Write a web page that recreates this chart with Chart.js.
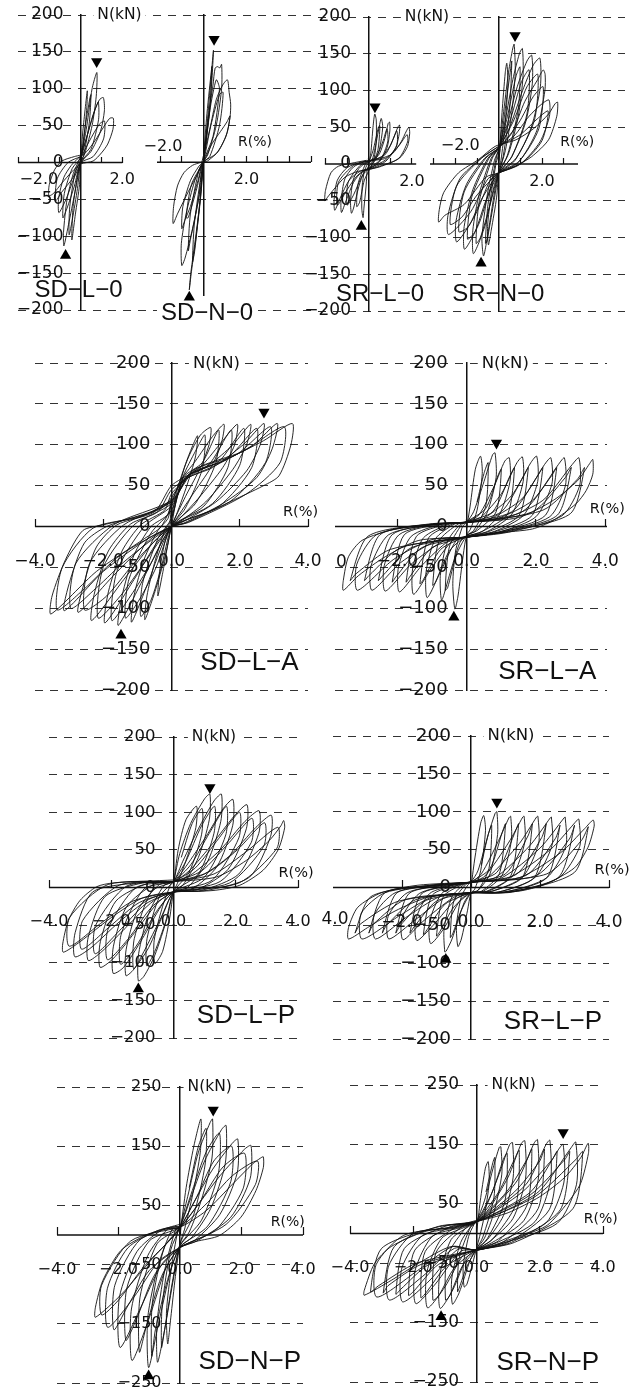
<!DOCTYPE html>
<html>
<head>
<meta charset="utf-8">
<title>N-R hysteresis</title>
<script src="https://cdn.jsdelivr.net/npm/chart.js@4"></script>
<style>
  html, body { margin: 0; padding: 0; background: #fff; }
  body { position: relative; width: 636px; height: 1391px; overflow: hidden; }
  canvas { position: absolute; }
</style>
</head>
<body>
<script>
// loops, [R(%), N(kN)]
const sdL0Loop = [
  [0,0],[.1,40],[.32,97],[.3,75],[.15,30],[0,0],
  [-.05,-30],[-.25,-70],[-.42,-105],[-.36,-60],[-.15,-18],[0,3],
  [.3,50],[.55,100],[.78,122],[.75,90],[.55,50],[.2,12],[0,0],
  [-.2,-30],[-.55,-80],[-.8,-113],[-.82,-95],[-.65,-50],[-.35,-15],[-.05,5],
  [.3,35],[.6,65],[.9,85],[1.09,88],[1.14,70],[.95,42],[.5,15],[.1,3],
  [-.3,-20],[-.7,-50],[-1.04,-68],[-1.05,-48],[-.8,-20],[-.45,-4],[-.1,6],
  [.3,15],[.7,30],[1.1,48],[1.4,60],[1.57,60],[1.55,45],[1.3,25],[1,13],[.6,2],[0,-2],
  [-.4,-12],[-.9,-28],[-1.3,-42],[-1.52,-45],[-1.5,-30],[-1.25,-10],[-.9,2],[-.3,8],[0,10]
];
const sdL0Second = [
  [0,0],[.2,45],[.45,88],[.5,92],[.42,55],[.15,10],[0,0],
  [-.15,-35],[-.4,-78],[-.55,-98],[-.52,-60],[-.25,-12],[0,4],
  [.35,40],[.7,72],[.85,82],[.86,58],[.5,18],[0,0],
  [-.3,-32],[-.65,-62],[-.85,-75],[-.78,-42],[-.4,-8],[0,6],
  [.4,28],[.9,52],[1.15,56],[1.1,32],[.6,8],[0,0],
  [-.4,-22],[-.9,-40],[-1.2,-52],[-1.12,-22],[-.6,0],[0,8]
];
const sdN0Loop = [
  [0,0],[.2,60],[.47,152],[.36,95],[.12,25],[0,0],
  [-.1,-40],[-.35,-100],[-.58,-150],[-.65,-173],[-.55,-148],[-.35,-105],[-.15,-55],[0,0],
  [.25,65],[.45,105],[.55,128],[.68,130],[.76,128],[.85,133],[.85,100],[.6,50],[.2,10],[0,0],
  [-.1,-30],[-.5,-90],[-.85,-130],[-1,-140],[-1.02,-110],[-.8,-70],[-.4,-25],[-.1,-3],
  [.3,45],[.6,85],[.9,105],[1.12,112],[1.2,95],[1.27,79],[1.24,61],[1.05,35],[.6,12],[0,0],
  [-.25,-25],[-.6,-60],[-.85,-78],[-1,-90],[-.95,-60],[-.6,-25],[-.2,-5],[0,0],
  [.4,25],[.8,42],[1.1,55],[1.24,63],[1.1,40],[.7,15],[.2,2],[0,0],
  [-.2,-12],[-.7,-40],[-1.2,-70],[-1.4,-83],[-1.38,-60],[-1.2,-32],[-.9,-14],[-.5,-4],[-.1,0],[0,0]
];
const sdN0Second = [
  [0,0],[.15,60],[.35,118],[.4,130],[.3,70],[0,0],
  [-.15,-50],[-.4,-120],[-.5,-135],[-.42,-85],[-.12,-20],[0,0],
  [.3,70],[.6,112],[.75,100],[.45,35],[0,0],
  [-.25,-55],[-.6,-105],[-.7,-120],[-.6,-70],[-.2,-10],[0,0],
  [.35,50],[.75,92],[.92,95],[.75,50],[.3,8],[0,0],
  [-.3,-35],[-.7,-75],[-.8,-75],[-.55,-30],[0,0]
];
const srL0Loop = [
  [0,0],[.1,15],[.2,50],[.28,68],[.35,60],[.35,30],[.25,8],[.1,0],[-.05,-5],
  [-.12,-30],[-.22,-60],[-.26,-73],[-.32,-60],[-.3,-30],[-.2,-10],[-.05,0],
  [.15,5],[.3,22],[.47,48],[.58,62],[.65,50],[.5,20],[.3,5],[.05,-4],
  [-.2,-10],[-.45,-30],[-.7,-60],[-.8,-67],[-.84,-50],[-.72,-22],[-.45,-6],[-.1,2],
  [.2,5],[.5,14],[.75,35],[.9,55],[.97,57],[.98,45],[.85,22],[.5,3],[.1,-5],
  [-.3,-10],[-.7,-25],[-1.05,-50],[-1.26,-66],[-1.28,-50],[-1.1,-20],[-.7,-4],[-.2,3],
  [.4,7],[.8,14],[1.15,35],[1.35,50],[1.43,53],[1.42,42],[1.25,22],[.8,4],[.2,-5],
  [-.4,-10],[-.9,-22],[-1.3,-45],[-1.57,-63],[-1.6,-48],[-1.45,-22],[-1,-5],[-.3,3],
  [.5,7],[1.1,14],[1.5,30],[1.75,45],[1.86,50],[1.9,42],[1.8,24],[1.5,10],[1.2,4],[.6,-2],[.1,-7],
  [-.5,-10],[-1.1,-18],[-1.6,-34],[-1.9,-45],[-2.03,-50],[-2,-36],[-1.75,-12],[-1.4,-3],[-.8,1],[-.1,5]
];
const srL0Second = [
  [0,2],[.2,18],[.45,50],[.52,52],[.42,18],[.1,-4],
  [-.2,-22],[-.42,-52],[-.55,-58],[-.5,-28],[-.15,0],[0,3],
  [.35,10],[.65,30],[.85,48],[.88,30],[.55,6],[.05,-5],
  [-.3,-16],[-.7,-42],[-1,-56],[-.95,-25],[-.4,-2],[0,4],
  [.6,10],[1,25],[1.3,45],[1.3,25],[.8,6],[.1,-5],
  [-.5,-15],[-1,-35],[-1.45,-56],[-1.4,-25],[-.7,-2],[0,4],
  [.8,8],[1.4,25],[1.78,40],[1.8,30],[1.4,8],[.5,-4],[0,-7]
];
const srN0Loop = [
  [0,0],[.15,70],[.3,125],[.37,137],[.42,110],[.28,50],[.1,5],[0,-8],
  [-.1,-45],[-.35,-90],[-.48,-110],[-.52,-85],[-.35,-40],[-.12,2],[0,15],
  [.2,65],[.45,125],[.65,158],[.71,163],[.76,125],[.6,70],[.3,18],[0,-12],
  [-.15,-30],[-.45,-85],[-.7,-125],[-.78,-100],[-.55,-45],[-.2,5],[0,20],
  [.3,60],[.65,115],[.95,150],[1.09,157],[1.12,120],[.9,65],[.45,14],[0,-12],
  [-.2,-28],[-.65,-85],[-1.17,-122],[-1.2,-90],[-.9,-40],[-.35,8],[0,22],
  [.4,55],[.85,105],[1.3,140],[1.52,148],[1.55,110],[1.25,58],[.6,10],[0,-12],
  [-.3,-25],[-.9,-80],[-1.58,-116],[-1.6,-85],[-1.2,-35],[-.5,8],[0,22],
  [.5,50],[1.1,100],[1.6,135],[1.9,144],[1.92,105],[1.5,50],[.75,5],[0,-12],
  [-.4,-22],[-1.1,-70],[-1.94,-106],[-1.98,-78],[-1.5,-28],[-.65,8],[0,22],
  [.6,42],[1.2,85],[1.8,115],[2.05,128],[2.14,122],[2.13,100],[1.75,45],[.9,2],[0,-12],
  [-.5,-20],[-1.3,-65],[-2.32,-96],[-2.35,-70],[-1.8,-20],[-.8,8],[0,24],
  [.7,38],[1.4,65],[2,82],[2.32,87],[2.34,65],[1.9,30],[1,0],[0,-12],
  [-.6,-18],[-1.6,-55],[-2.5,-70],[-2.78,-79],[-2.75,-62],[-2.55,-39],[-1.86,-12],[-.94,6],[-.17,24],
  [.8,33],[1.6,48],[2.3,68],[2.6,82],[2.72,84],[2.68,65],[2.3,33],[1.52,10],[.75,-3],[0,-12]
];
const srN0Second = [
  [0,5],[.3,75],[.55,130],[.6,140],[.5,75],[.2,10],[0,-12],
  [-.25,-55],[-.55,-105],[-.62,-108],[-.5,-55],[-.12,8],[0,20],
  [.4,65],[.8,120],[.98,132],[.9,75],[.4,12],[0,-12],
  [-.4,-55],[-.85,-100],[-1.05,-108],[-.9,-50],[-.3,8],[0,22],
  [.55,62],[1.05,112],[1.4,128],[1.3,68],[.6,10],[0,-12],
  [-.6,-50],[-1.1,-92],[-1.45,-102],[-1.25,-45],[-.45,8],[0,22],
  [.7,60],[1.3,105],[1.8,122],[1.65,60],[.8,8],[0,-12],
  [-.8,-48],[-1.4,-85],[-1.85,-92],[-1.6,-38],[-.6,8],[0,22],
  [.9,55],[1.6,92],[2.05,105],[1.85,48],[.95,4],[0,-12],
  [-1,-42],[-1.7,-72],[-2.25,-82],[-1.95,-30],[-.8,8],[0,24],
  [1,40],[1.8,62],[2.28,72],[2,32],[1.1,2],[0,-12]
];
const sdLALoop = [
  [0,0],[.15,35],[.4,75],[.76,111],[.7,85],[.45,50],[.15,15],[0,0],
  [-.1,-20],[-.25,-55],[-.4,-85],[-.35,-55],[-.2,-20],[-.05,0],
  [0,12],[.2,50],[.5,85],[.85,112],[1.15,121],[1.1,100],[.85,72],[.45,40],[.1,10],[0,0],
  [-.15,-30],[-.45,-75],[-.78,-114],[-.72,-85],[-.5,-45],[-.2,-5],[-.05,5],
  [0,25],[.25,55],[.7,80],[1.2,110],[1.54,125],[1.45,100],[1.15,72],[.6,38],[.15,10],[0,0],
  [-.25,-20],[-.7,-70],[-1.17,-117],[-1.1,-85],[-.8,-40],[-.4,-5],[-.1,10],
  [0,30],[.3,55],[.9,75],[1.5,105],[1.93,125],[1.85,100],[1.5,72],[.8,35],[.2,8],[0,0],
  [-.3,-20],[-.9,-70],[-1.56,-121],[-1.45,-85],[-1.1,-35],[-.6,0],[-.1,15],
  [0,35],[.4,58],[1.1,75],[1.8,100],[2.32,125],[2.2,100],[1.8,70],[1,30],[.25,6],[0,0],
  [-.4,-18],[-1.1,-65],[-1.95,-118],[-1.85,-80],[-1.45,-30],[-.9,2],[-.2,20],
  [0,40],[.5,60],[1.2,72],[2.1,100],[2.71,126],[2.6,100],[2.2,68],[1.3,30],[.3,5],[0,0],
  [-.5,-18],[-1.4,-65],[-2.34,-115],[-2.25,-80],[-1.85,-30],[-1.2,3],[-.4,18],
  [0,45],[.5,60],[1.3,75],[2.4,100],[3.1,126],[2.95,95],[2.5,60],[1.5,28],[.35,4],[0,0],
  [-.6,-15],[-1.7,-60],[-2.73,-105],[-2.6,-75],[-2.2,-25],[-1.6,2],[-.5,18],
  [0,50],[.6,65],[1.5,80],[2.7,105],[3.54,126],[3.5,100],[3.15,62],[2.7,50],[1.6,28],[.4,4],[0,0],
  [-.7,-15],[-2,-55],[-3.14,-103],[-3,-70],[-2.55,-20],[-1.9,0],[-.6,18],[0,30],
  [-.3,0],[-.8,-15],[-2.2,-55],[-3.53,-107],[-3.5,-85],[-3.1,-40],[-2.6,-5],[-2,2],[-1,12],[-.3,22],[0,35]
];
const sdLASecond = [
  [0,10],[.35,62],[.7,92],[.98,112],[.9,70],[.4,22],[0,0],
  [-.3,-50],[-.6,-90],[-.9,-110],[-.85,-70],[-.4,-15],[0,10],
  [.35,60],[.9,78],[1.38,118],[1.3,78],[.7,28],[0,0],
  [-.45,-50],[-.95,-90],[-1.35,-112],[-1.25,-65],[-.6,-8],[0,20],
  [.4,60],[1.1,76],[1.75,118],[1.65,72],[.95,25],[0,0],
  [-.6,-45],[-1.2,-85],[-1.75,-115],[-1.6,-55],[-.8,0],[0,25],
  [.5,62],[1.4,80],[2.12,120],[2,75],[1.2,28],[0,0],
  [-.8,-45],[-1.5,-85],[-2.15,-112],[-2,-50],[-1.1,2],[0,28],
  [.55,65],[1.6,82],[2.5,120],[2.35,72],[1.4,25],[0,0],
  [-1,-40],[-1.9,-85],[-2.55,-102],[-2.4,-45],[-1.4,2],[0,30],
  [.6,68],[1.9,88],[2.9,122],[2.75,78],[1.7,30],[0,0],
  [-1.3,-40],[-2.2,-75],[-2.95,-100],[-2.8,-45],[-1.7,2],[0,32],
  [.7,70],[2.1,92],[3.3,122],[3.18,78],[2.2,40],[.5,5],[0,0],
  [-1.5,-35],[-2.6,-78],[-3.35,-102],[-3.2,-50],[-2.3,-2],[-.9,12],[0,30]
];
const srLALoop = [
  [0,-2],[.1,25],[.25,70],[.4,86],[.45,65],[.3,20],[.1,-4],[0,-10],
  [-.1,-35],[-.25,-85],[-.34,-101],[-.4,-70],[-.32,-30],[-.12,0],[0,5],
  [.2,18],[.5,55],[.75,88],[.82,90],[.85,60],[.6,18],[.25,-5],[0,-11],
  [-.2,-20],[-.5,-60],[-.72,-90],[-.76,-60],[-.55,-18],[-.2,2],[0,6],
  [.35,14],[.8,50],[1.1,80],[1.23,84],[1.25,55],[.95,15],[.45,-6],[0,-12],
  [-.3,-17],[-.75,-55],[-1.14,-87],[-1.17,-55],[-.9,-15],[-.35,3],[0,6],
  [.4,11],[1,40],[1.45,78],[1.61,85],[1.63,55],[1.3,15],[.6,-6],[0,-12],
  [-.4,-17],[-1,-50],[-1.53,-83],[-1.56,-52],[-1.25,-14],[-.5,3],[0,5],
  [.5,10],[1.3,38],[1.85,78],[2.02,86],[2.05,55],[1.65,14],[.8,-6],[0,-13],
  [-.5,-17],[-1.3,-48],[-1.94,-80],[-1.97,-50],[-1.6,-12],[-.7,3],[0,5],
  [.7,10],[1.6,34],[2.25,76],[2.43,84],[2.46,52],[2,12],[1,-6],[0,-13],
  [-.6,-16],[-1.6,-46],[-2.35,-79],[-2.38,-48],[-1.95,-10],[-.9,3],[0,5],
  [.9,10],[1.9,32],[2.65,76],[2.82,84],[2.85,50],[2.4,12],[1.1,-6],[0,-13],
  [-.8,-16],[-1.9,-44],[-2.73,-78],[-2.76,-48],[-2.25,-10],[-1,2],[0,5],
  [1.1,10],[2.2,32],[3.05,76],[3.24,84],[3.26,50],[2.75,13],[1.2,-7],[0,-13],
  [-1,-16],[-2.1,-40],[-3.15,-78],[-3.17,-46],[-2.6,-10],[-1.1,2],[0,5],
  [1.5,11],[2.5,32],[3.2,56],[3.55,77],[3.64,82],[3.64,64],[3.45,44],[3.16,28],[2.48,7],[1.9,-3],[1.13,-7],[0,-13],
  [-1.38,-17],[-2.35,-37],[-3.12,-60],[-3.56,-78],[-3.56,-66],[-3.41,-37],[-3.02,-17],[-2.06,-3],[-1.19,2],[0,5]
];
const srLASecond = [
  [.3,30],[.5,65],[.62,78],[.55,25],[.2,-5],[0,-11],
  [-.3,-35],[-.55,-75],[-.62,-78],[-.5,-25],[-.15,2],[0,6],
  [.55,22],[.9,62],[1,70],[.85,18],[.3,-5],[0,-11],
  [-.5,-30],[-.9,-68],[-.98,-72],[-.8,-18],[-.25,3],[0,6],
  [.75,18],[1.25,62],[1.38,72],[1.18,15],[.45,-6],[0,-12],
  [-.75,-28],[-1.25,-65],[-1.35,-70],[-1.1,-14],[-.4,3],[0,5],
  [1,18],[1.65,62],[1.78,72],[1.52,14],[.65,-6],[0,-13],
  [-1,-26],[-1.65,-62],[-1.75,-68],[-1.45,-12],[-.55,3],[0,5],
  [1.3,18],[2.05,62],[2.2,72],[1.9,14],[.85,-6],[0,-13],
  [-1.3,-26],[-2.05,-62],[-2.15,-68],[-1.8,-10],[-.7,3],[0,5],
  [1.6,18],[2.45,62],[2.6,72],[2.28,14],[1,-6],[0,-13],
  [-1.6,-26],[-2.42,-60],[-2.55,-66],[-2.15,-10],[-.85,3],[0,5],
  [1.9,18],[2.85,60],[3.02,72],[2.62,14],[1.1,-6],[0,-13],
  [-1.9,-26],[-2.82,-60],[-2.95,-66],[-2.5,-10],[-1,3],[0,5],
  [2.2,20],[3.2,58],[3.4,72],[3,16],[1.2,-6],[0,-13],
  [-2.2,-28],[-3.2,-58],[-3.36,-66],[-2.85,-12],[-1.1,3],[0,5]
];
const sdLPLoop = [
  [0,0],[.15,50],[.4,90],[.74,108],[.72,80],[.42,38],[.12,5],[0,-6],
  [-.12,-40],[-.35,-85],[-.6,-101],[-.62,-70],[-.35,-25],[-.1,3],[0,8],
  [.2,45],[.55,85],[1,118],[1.17,124],[1.15,90],[.8,40],[.3,3],[0,-6],
  [-.2,-40],[-.6,-90],[-.95,-118],[-1.13,-124],[-1.12,-88],[-.8,-35],[-.3,3],[0,8],
  [.3,35],[.8,78],[1.3,115],[1.54,124],[1.52,88],[1.1,35],[.45,0],[0,-6],
  [-.3,-32],[-.8,-80],[-1.3,-110],[-1.53,-117],[-1.52,-82],[-1.15,-30],[-.45,4],[0,8],
  [.4,28],[1.05,68],[1.6,105],[1.91,117],[1.9,82],[1.4,28],[.6,-2],[0,-6],
  [-.4,-25],[-1,-68],[-1.6,-106],[-1.94,-114],[-1.93,-78],[-1.5,-25],[-.6,5],[0,8],
  [.5,22],[1.25,58],[1.95,95],[2.36,110],[2.34,78],[1.75,24],[.75,-3],[0,-6],
  [-.5,-20],[-1.25,-60],[-1.95,-95],[-2.36,-106],[-2.35,-72],[-1.85,-18],[-.8,6],[0,8],
  [.6,18],[1.5,50],[2.3,88],[2.75,102],[2.74,72],[2.1,18],[.9,-4],[0,-6],
  [-.65,-18],[-1.5,-52],[-2.3,-85],[-2.74,-97],[-2.74,-66],[-2.2,-12],[-1,6],[0,8],
  [.9,16],[1.8,42],[2.65,80],[3.14,96],[3.12,68],[2.45,14],[1.05,-4],[0,-6],
  [-.8,-16],[-1.75,-46],[-2.65,-80],[-3.17,-92],[-3.16,-60],[-2.6,-6],[-1.2,6],[0,8],
  [1.38,14],[2.34,36],[3.09,63],[3.45,82],[3.54,89],[3.57,79],[3.36,50],[2.88,23],[2.13,3],[1.27,-4],[0,-6],
  [-1,-14],[-2,-40],[-3,-72],[-3.54,-86],[-3.56,-75],[-3.38,-44],[-3,-17],[-2.47,1],[-1.94,6],[0,10]
];
const sdLPSecond = [
  [.25,40],[.6,85],[.92,105],[.9,70],[.5,20],[0,-6],
  [-.25,-45],[-.6,-85],[-.86,-104],[-.85,-68],[-.45,-12],[0,8],
  [.4,35],[.9,82],[1.32,108],[1.3,72],[.8,18],[0,-6],
  [-.4,-40],[-.95,-85],[-1.28,-108],[-1.26,-68],[-.7,-5],[0,8],
  [.55,30],[1.15,72],[1.7,108],[1.68,70],[1,14],[0,-6],
  [-.55,-32],[-1.2,-78],[-1.7,-102],[-1.68,-62],[-.95,-2],[0,8],
  [.7,26],[1.45,65],[2.12,100],[2.1,66],[1.25,10],[0,-6],
  [-.7,-26],[-1.45,-68],[-2.12,-96],[-2.1,-55],[-1.2,0],[0,8],
  [.9,22],[1.75,58],[2.52,92],[2.5,60],[1.5,8],[0,-6],
  [-.9,-22],[-1.75,-58],[-2.52,-88],[-2.5,-50],[-1.5,2],[0,8],
  [1.1,20],[2.05,50],[2.92,86],[2.9,55],[1.8,6],[0,-6],
  [-1.1,-20],[-2.05,-52],[-2.95,-82],[-2.92,-44],[-1.75,3],[0,8],
  [1.3,18],[2.35,48],[3.35,80],[3.32,52],[2.1,6],[0,-6],
  [-1.3,-18],[-2.35,-48],[-3.35,-78],[-3.34,-40],[-2.1,4],[0,8]
];
const srLPLoop = [
  [0,0],[.1,35],[.28,85],[.37,95],[.42,75],[.28,22],[.1,-3],[0,-7],
  [-.1,-30],[-.28,-68],[-.38,-78],[-.42,-50],[-.28,-12],[-.08,4],[0,7],
  [.2,22],[.5,70],[.7,98],[.75,100],[.77,70],[.55,18],[.2,-4],[0,-7],
  [-.2,-20],[-.55,-68],[-.72,-84],[-.76,-85],[-.78,-55],[-.55,-12],[-.2,4],[0,7],
  [.3,18],[.8,62],[1.1,92],[1.15,94],[1.17,62],[.9,16],[.35,-5],[0,-7],
  [-.3,-16],[-.8,-55],[-1.17,-74],[-1.2,-45],[-.85,-8],[-.3,4],[0,7],
  [.4,15],[1.1,60],[1.5,93],[1.54,94],[1.56,60],[1.2,15],[.5,-5],[0,-7],
  [-.4,-14],[-1.1,-50],[-1.57,-70],[-1.6,-42],[-1.2,-8],[-.5,3],[0,7],
  [.5,14],[1.4,58],[1.9,93],[1.94,94],[1.96,58],[1.5,14],[.6,-5],[0,-7],
  [-.5,-13],[-1.4,-45],[-1.97,-69],[-2,-40],[-1.5,-8],[-.6,3],[0,7],
  [.7,13],[1.7,55],[2.3,92],[2.33,93],[2.35,56],[1.85,13],[.8,-6],[0,-7],
  [-.7,-12],[-1.6,-42],[-2.38,-68],[-2.4,-38],[-1.85,-7],[-.8,3],[0,7],
  [.9,13],[2,52],[2.7,92],[2.73,93],[2.75,55],[2.2,13],[1,-6],[0,-7],
  [-.9,-12],[-1.9,-40],[-2.77,-68],[-2.8,-36],[-2.2,-7],[-1,3],[0,7],
  [1.1,13],[2.3,50],[3.1,90],[3.13,90],[3.15,54],[2.55,13],[1.1,-6],[0,-7],
  [-1.1,-12],[-2.1,-38],[-3.16,-68],[-3.18,-34],[-2.5,-7],[-1.1,3],[0,7],
  [1.4,13],[2.6,46],[3.3,78],[3.54,89],[3.57,81],[3.39,53],[3,26],[2.13,4],[1.36,-5],[0,-7],
  [-1.25,-13],[-2.2,-31],[-3,-53],[-3.55,-68],[-3.55,-53],[-3.28,-26],[-2.6,-7],[-1.54,3],[0,7]
];
const srLPSecond = [
  [.3,30],[.5,70],[.6,82],[.52,25],[.2,-4],[0,-7],
  [-.3,-32],[-.52,-60],[-.6,-66],[-.5,-18],[-.15,4],[0,7],
  [.55,25],[.9,72],[1,84],[.82,18],[.3,-5],[0,-7],
  [-.5,-26],[-.9,-58],[-1,-64],[-.8,-12],[-.25,4],[0,7],
  [.75,20],[1.25,70],[1.38,84],[1.15,15],[.45,-5],[0,-7],
  [-.75,-22],[-1.25,-54],[-1.38,-62],[-1.12,-10],[-.4,3],[0,7],
  [1,18],[1.65,68],[1.78,84],[1.5,14],[.6,-5],[0,-7],
  [-1,-18],[-1.65,-52],[-1.77,-60],[-1.45,-9],[-.55,3],[0,7],
  [1.3,17],[2.05,66],[2.18,84],[1.85,14],[.8,-6],[0,-7],
  [-1.3,-17],[-2.05,-50],[-2.18,-60],[-1.8,-8],[-.7,3],[0,7],
  [1.6,16],[2.45,65],[2.58,82],[2.2,13],[.95,-6],[0,-7],
  [-1.6,-16],[-2.45,-50],[-2.57,-60],[-2.15,-7],[-.85,3],[0,7],
  [1.9,16],[2.85,64],[3,82],[2.55,14],[1.1,-6],[0,-7],
  [-1.9,-16],[-2.82,-48],[-2.96,-60],[-2.5,-7],[-1,3],[0,7],
  [2.2,18],[3.2,62],[3.4,80],[3,20],[1.2,-6],[0,-7],
  [-2.1,-18],[-3.2,-48],[-3.36,-60],[-2.9,-12],[-1.2,3],[0,7]
];
const sdNPLoop = [
  [0,0],[.2,80],[.45,150],[.68,196],[.66,140],[.42,70],[.15,10],[0,-15],
  [-.15,-70],[-.3,-140],[-.4,-184],[-.44,-130],[-.28,-55],[-.08,5],[0,13],
  [.25,65],[.6,140],[.98,190],[1.06,196],[1.04,130],[.7,60],[.3,5],[0,-18],
  [-.2,-70],[-.5,-160],[-.73,-215],[-.75,-150],[-.5,-60],[-.15,8],[0,14],
  [.3,55],[.8,125],[1.35,178],[1.5,185],[1.47,120],[1,45],[.4,-3],[0,-20],
  [-.3,-60],[-.7,-150],[-1.02,-224],[-1.05,-140],[-.7,-50],[-.25,10],[0,13],
  [.4,50],[1.05,110],[1.7,155],[1.88,162],[1.86,105],[1.3,35],[.5,-8],[0,-21],
  [-.45,-55],[-1,-140],[-1.56,-212],[-1.58,-125],[-1.05,-35],[-.4,10],[0,13],
  [.5,45],[1.3,100],[2.1,145],[2.31,151],[2.28,95],[1.65,30],[.55,-10],[0,-21],
  [-.6,-50],[-1.3,-125],[-1.95,-190],[-1.97,-105],[-1.4,-28],[-.6,8],[0,13],
  [.85,41],[1.71,86],[2.36,120],[2.62,130],[2.71,132],[2.71,114],[2.47,75],[1.98,30],[1.28,-1],[.52,-11],[0,-21],
  [-.7,-45],[-1.5,-105],[-2.35,-156],[-2.36,-90],[-1.7,-22],[-.7,8],[0,13],
  [-.9,-40],[-1.9,-100],[-2.75,-139],[-2.75,-122],[-2.51,-77],[-1.92,-26],[-1.1,0],[-.35,13],[0,18]
];
const sdNPSecond = [
  [.3,80],[.6,150],[.85,180],[.82,120],[.45,35],[0,-15],
  [-.25,-80],[-.5,-160],[-.6,-190],[-.58,-120],[-.3,-25],[0,13],
  [.4,75],[.85,140],[1.28,172],[1.25,105],[.7,25],[0,-18],
  [-.4,-75],[-.8,-160],[-.92,-205],[-.9,-115],[-.5,-20],[0,13],
  [.55,65],[1.1,125],[1.68,150],[1.65,90],[.9,15],[0,-20],
  [-.6,-70],[-1.1,-155],[-1.32,-198],[-1.3,-105],[-.75,-15],[0,13],
  [.7,60],[1.4,115],[2.1,138],[2.05,78],[1.15,8],[0,-21],
  [-.8,-65],[-1.4,-140],[-1.76,-178],[-1.73,-90],[-1,-10],[0,13],
  [.9,55],[1.7,100],[2.52,125],[2.45,85],[1.5,18],[0,-21],
  [-1,-60],[-1.7,-120],[-2.15,-160],[-2.12,-85],[-1.3,-8],[0,13],
  [-1.2,-55],[-2,-110],[-2.55,-135],[-2.55,-85],[-1.6,-10],[0,13]
];
const srNPLoop = [
  [0,0],[.12,55],[.28,110],[.37,121],[.4,85],[.25,30],[.1,-5],[0,-25],
  [-.12,-50],[-.3,-85],[-.39,-90],[-.42,-55],[-.25,-5],[-.08,15],[0,20],
  [.25,55],[.55,115],[.72,145],[.77,146],[.8,100],[.55,35],[.25,-8],[0,-26],
  [-.2,-45],[-.55,-100],[-.76,-119],[-.78,-75],[-.5,-15],[-.2,10],[0,20],
  [.3,45],[.75,105],[1.05,150],[1.14,153],[1.16,95],[.85,30],[.35,-10],[0,-27],
  [-.3,-40],[-.75,-95],[-1.15,-126],[-1.17,-72],[-.8,-10],[-.3,10],[0,20],
  [.4,42],[1,95],[1.42,152],[1.53,156],[1.55,92],[1.15,25],[.45,-12],[0,-27],
  [-.4,-35],[-1,-90],[-1.55,-125],[-1.57,-65],[-1.1,-8],[-.4,10],[0,20],
  [.5,42],[1.3,90],[1.82,152],[1.93,158],[1.95,90],[1.5,22],[.6,-12],[0,-27],
  [-.5,-30],[-1.3,-85],[-1.92,-118],[-1.94,-62],[-1.4,-5],[-.5,10],[0,20],
  [.65,42],[1.6,85],[2.2,150],[2.32,157],[2.34,88],[1.85,20],[.7,-14],[0,-27],
  [-.6,-27],[-1.5,-80],[-2.34,-115],[-2.36,-58],[-1.7,-3],[-.6,10],[0,20],
  [.8,40],[1.75,72],[2.6,142],[2.74,150],[2.76,85],[2.2,18],[.8,-15],[0,-28],
  [-.7,-25],[-1.7,-72],[-2.76,-112],[-2.78,-55],[-2,0],[-.7,10],[0,20],
  [.9,38],[2,72],[3,145],[3.14,154],[3.16,82],[2.55,17],[.85,-16],[0,-28],
  [-.75,-22],[-1.8,-60],[-3.15,-107],[-3.17,-52],[-2.3,-3],[-.8,10],[0,20],
  [1,35],[2,62],[2.8,95],[3.3,128],[3.53,152],[3.54,135],[3.29,84],[2.87,51],[2.24,14],[1.5,-3],[.87,-16],[0,-28],
  [-.81,-22],[-1.86,-51],[-2.7,-79],[-3.55,-104],[-3.55,-96],[-3.23,-51],[-2.7,-22],[-1.65,3],[-.81,11],[0,22]
];
const srNPSecond = [
  [.3,70],[.52,120],[.58,128],[.55,60],[.2,-6],[0,-26],
  [-.3,-55],[-.55,-92],[-.6,-98],[-.55,-42],[-.18,12],[0,20],
  [.5,70],[.85,125],[.97,135],[.9,55],[.35,-8],[0,-27],
  [-.45,-55],[-.85,-105],[-.98,-112],[-.92,-38],[-.3,12],[0,20],
  [.7,70],[1.2,125],[1.35,140],[1.25,50],[.5,-10],[0,-27],
  [-.7,-58],[-1.2,-105],[-1.38,-112],[-1.28,-32],[-.45,12],[0,20],
  [.95,70],[1.6,125],[1.75,142],[1.6,48],[.7,-12],[0,-27],
  [-.95,-55],[-1.6,-100],[-1.76,-108],[-1.62,-30],[-.6,12],[0,20],
  [1.2,70],[2,122],[2.15,142],[1.95,42],[.85,-14],[0,-27],
  [-1.2,-52],[-2,-98],[-2.15,-104],[-1.95,-28],[-.8,12],[0,20],
  [1.45,70],[2.4,125],[2.55,138],[2.3,40],[1,-15],[0,-28],
  [-1.5,-52],[-2.4,-94],[-2.55,-102],[-2.28,-25],[-1,12],[0,20],
  [1.7,65],[2.8,125],[2.95,138],[2.65,40],[1.1,-15],[0,-28],
  [-1.75,-52],[-2.8,-88],[-2.95,-100],[-2.6,-22],[-1.2,12],[0,20],
  [1.85,62],[3.15,125],[3.36,138],[3.05,42],[1.2,-15],[0,-28],
  [-1.9,-50],[-3.1,-88],[-3.35,-98],[-3,-25],[-1.3,10],[0,20]
];

// peak markers, [R, N]
const sdL0Peaks = [[.77,137],[-.72,-126]];
const sdN0Peaks = [[.5,167],[-.65,-183]];
const srL0Peaks = [[.29,78],[-.34,-85]];
const srN0Peaks = [[.75,175],[-.82,-135]];
const sdLAPeaks = [[2.71,140],[-1.48,-133]];
const srLAPeaks = [[.86,102],[-.37,-111]];
const sdLPPeaks = [[1.17,133],[-1.13,-135]];
const srLPPeaks = [[.75,113],[-.73,-95]];
const sdNPPeaks = [[1.08,211],[-1.02,-238]];
const srNPPeaks = [[2.74,170],[-1.12,-140]];

// tick lists
const nTicks200 = [200,150,100,50,0,-50,-100,-150,-200];
const nTicks250 = [250,150,50,-50,-150,-250];
const rTicks4 = [-4,-2,0,2,4];
const rTicks4Cut = [-2,0,2,4];

const INK = '#111';
const M = 60; // canvas margin round the plot box

// box is page px of the plot area: l, t, r, b. nAt is the R value the N labels hang from
const panels = [
  { loop: sdL0Loop, second: sdL0Second, peaks: sdL0Peaks, box: [17.5,15,311,310], x: [-3,11.09], y: [-200,200], axis: [-3,2],
    xTicks: [-3,-2,-1,0,1,2], xLabels: [-2,2], nTicks: nTicks200, grid: true, tl: 6, xPad: 14, xFont: 16, yFont: 17, nAt: -.82,
    notes: [['N(kN)',119,15,15.5,1],['SD−L−0',78,290,24,0]] },
  { loop: sdN0Loop, second: sdN0Second, peaks: sdN0Peaks, box: [157,15,311,295], x: [-2.15,5], y: [-180,200], axis: [-2.15,5],
    xTicks: [-2,-1,0,1,2,3,4,5], xLabels: [2], nTicks: [], grid: false, tl: 6, xPad: 14, xFont: 16, yFont: 17, nAt: -1,
    notes: [['−2.0',163,147,16,0],['R(%)',255,142,14,0],['SD−N−0',207,313,24,1]] },
  { loop: srL0Loop, second: srL0Second, peaks: srL0Peaks, box: [318,17.3,625,311.7], x: [-2.347,11.87], y: [-200,200], axis: [-2.03,2.2],
    xTicks: [-2,-1,0,1,2], xLabels: [2], nTicks: nTicks200, grid: true, tl: 6, xPad: 14, xFont: 16, yFont: 17, nAt: -.82,
    notes: [['N(kN)',427,17,15.5,1],['SR−L−0',380,295,24,0]] },
  { loop: srN0Loop, second: srN0Second, peaks: srN0Peaks, box: [429.7,17.3,577.3,311.7], x: [-3.18,3.66], y: [-200,200], axis: [-3.18,3.66],
    xTicks: [-3,-2,-1,0,1,2,3], xLabels: [2], nTicks: [], grid: false, tl: 6, xPad: 14, xFont: 16, yFont: 17, nAt: -1,
    notes: [['−2.0',460,146,16,0],['R(%)',577,143,14,0],['SR−N−0',498,295,24,0]] },
  { loop: sdLALoop, second: sdLASecond, peaks: sdLAPeaks, box: [34.5,362.7,307,690], x: [-4,4], y: [-200,200], axis: [-4,4],
    xTicks: rTicks4, xLabels: rTicks4, nTicks: nTicks200, grid: true, tl: 8, xPad: 33, xFont: 17, yFont: 18, nAt: -.62,
    notes: [['N(kN)',216,363,16.5,1],['R(%)',300,512,14.5,0],['SD−L−A',249,663,26,0]] },
  { loop: srLALoop, second: srLASecond, peaks: srLAPeaks, box: [334.7,362.7,606.3,690], x: [-3.8,4.05], y: [-200,200], axis: [-3.8,4.05],
    xTicks: rTicks4Cut, xLabels: rTicks4Cut, nTicks: nTicks200, grid: true, tl: 8, xPad: 33, xFont: 17, yFont: 18, nAt: -.55,
    notes: [['N(kN)',505,363,16.5,1],['0',341,562,17,0],['R(%)',607,509,14.5,0],['SR−L−A',547,672,26,0]] },
  { loop: sdLPLoop, second: sdLPSecond, peaks: sdLPPeaks, box: [49,737.3,298.3,1038.3], x: [-4,4], y: [-200,200], axis: [-4,4],
    xTicks: rTicks4, xLabels: rTicks4, nTicks: nTicks200, grid: true, tl: 8, xPad: 33, xFont: 16, yFont: 16.5, nAt: -.58,
    notes: [['N(kN)',214,737,15.5,1],['R(%)',296,874,14.5,0],['SD−L−P',246,1016,26,0]] },
  { loop: srLPLoop, second: srLPSecond, peaks: srLPPeaks, box: [333,735.7,609,1038.3], x: [-4,4], y: [-200,200], axis: [-4,4],
    xTicks: rTicks4Cut, xLabels: rTicks4Cut, nTicks: nTicks200, grid: true, tl: 8, xPad: 33, xFont: 17, yFont: 18.5, nAt: -.58,
    notes: [['N(kN)',511,735,16.5,1],['4.0',335,919,17,0],['R(%)',612,870,14.5,0],['SR−L−P',553,1022,26,0]] },
  { loop: sdNPLoop, second: sdNPSecond, peaks: sdNPPeaks, box: [57.3,1086.7,303.3,1382.3], x: [-4,4], y: [-250,250], axis: [-4,4],
    xTicks: rTicks4, xLabels: rTicks4, nTicks: nTicks250, grid: true, tl: 8, xPad: 33, xFont: 16, yFont: 16, nAt: -.6,
    notes: [['N(kN)',210,1087,15.5,1],['R(%)',288,1222,14,0],['SD−N−P',250,1362,26,0]] },
  { loop: srNPLoop, second: srNPSecond, peaks: srNPPeaks, box: [350.3,1085,603.7,1382.3], x: [-4,4], y: [-250,250], axis: [-4,4],
    xTicks: rTicks4, xLabels: rTicks4, nTicks: nTicks250, grid: true, tl: 8, xPad: 33, xFont: 16, yFont: 17, nAt: -.55,
    notes: [['N(kN)',514,1085,15.5,1],['R(%)',601,1219,14,0],['SR−N−P',548,1363,26,0]] }
];

function nLabel(v) {
  return v < 0 ? '−' + Math.abs(v) : String(v);
}
function rLabel(v) {
  return v < 0 ? '−' + Math.abs(v).toFixed(1) : v.toFixed(1);
}

// free text on the panel, positions are page px
const notesPlugin = {
  id: 'notes',
  afterDraw(chart, args, opts) {
    const ctx = chart.ctx;
    const ox = opts.box[0] - M, oy = opts.box[1] - M;
    ctx.save();
    ctx.textAlign = 'center';
    ctx.textBaseline = 'middle';
    opts.items.forEach(function(n) {
      const face = n[3] > 20 ? '"Liberation Sans"' : '"DejaVu Sans"';
      ctx.font = n[3] + 'px ' + face;
      const w = ctx.measureText(n[0]).width;
      if (n[4]) {
        ctx.fillStyle = '#fff';
        ctx.fillRect(n[1] - ox - w / 2 - 4, n[2] - oy - n[3] * 0.42, w + 8, n[3] * 0.84);
      }
      ctx.fillStyle = INK;
      ctx.fillText(n[0], n[1] - ox, n[2] - oy);
    });
    ctx.restore();
  }
};

panels.forEach(function(p) {
  const w = p.box[2] - p.box[0], h = p.box[3] - p.box[1];
  const cv = document.createElement('canvas');
  cv.width = Math.round(w + 2 * M);
  cv.height = Math.round(h + 2 * M);
  cv.style.left = (p.box[0] - M) + 'px';
  cv.style.top = (p.box[1] - M) + 'px';
  cv.style.width = cv.width + 'px';
  cv.style.height = cv.height + 'px';
  document.body.appendChild(cv);

  new Chart(cv, {
    type: 'scatter',
    plugins: [notesPlugin],
    data: {
      datasets: [
        { data: p.loop, showLine: true, pointRadius: 0, borderColor: INK, borderWidth: 0.9, tension: 0.25, clip: false },
        { data: p.second, showLine: true, pointRadius: 0, borderColor: INK, borderWidth: 0.9, tension: 0.25, clip: false },
        { data: [[p.axis[0],0],[p.axis[1],0]], showLine: true, pointRadius: 0, borderColor: INK, borderWidth: 1.5, clip: false },
        { data: [p.peaks[0]], pointStyle: 'triangle', rotation: 180, pointRadius: 6.5, backgroundColor: '#000', borderWidth: 0, clip: false },
        { data: [p.peaks[1]], pointStyle: 'triangle', pointRadius: 6.5, backgroundColor: '#000', borderWidth: 0, clip: false }
      ]
    },
    options: {
      responsive: false,
      animation: false,
      events: [],
      layout: { padding: M },
      plugins: {
        legend: { display: false },
        tooltip: { enabled: false },
        notes: { box: p.box, items: p.notes }
      },
      scales: {
        x: {
          type: 'linear',
          min: p.x[0],
          max: p.x[1],
          position: { y: 0 },
          afterBuildTicks: function(s) { s.ticks = p.xTicks.map(function(v) { return { value: v }; }); },
          border: { display: false },
          grid: { drawOnChartArea: false, drawTicks: true, tickLength: -p.tl, tickColor: INK, tickWidth: 1.2 },
          ticks: {
            autoSkip: false,
            maxRotation: 0,
            padding: p.xPad,
            color: INK,
            font: { family: '"DejaVu Sans"', size: p.xFont },
            callback: function(v) { return p.xLabels.indexOf(v) >= 0 ? rLabel(v) : ''; }
          }
        },
        y: {
          type: 'linear',
          min: p.y[0],
          max: p.y[1],
          position: { x: 0 },
          afterBuildTicks: function(s) { s.ticks = p.nTicks.map(function(v) { return { value: v }; }); },
          border: { display: true, color: INK, width: 1.5, dash: [8, 7] },
          grid: {
            display: p.grid,
            drawTicks: false,
            lineWidth: 1,
            color: function(c) { return c.tick && c.tick.value === 0 ? 'rgba(0,0,0,0)' : '#333'; }
          },
          ticks: { display: false }
        },
        // same range as y, only carries the N labels left of the axis
        yText: {
          type: 'linear',
          min: p.y[0],
          max: p.y[1],
          position: { x: p.nAt },
          afterBuildTicks: function(s) { s.ticks = p.nTicks.map(function(v) { return { value: v }; }); },
          border: { display: false },
          grid: { display: false, drawTicks: false },
          ticks: {
            display: p.nTicks.length > 0,
            autoSkip: false,
            padding: 0,
            color: INK,
            font: { family: '"DejaVu Sans"', size: p.yFont },
            callback: function(v) { return nLabel(v); }
          }
        }
      }
    }
  });
});
</script>
</body>
</html>
